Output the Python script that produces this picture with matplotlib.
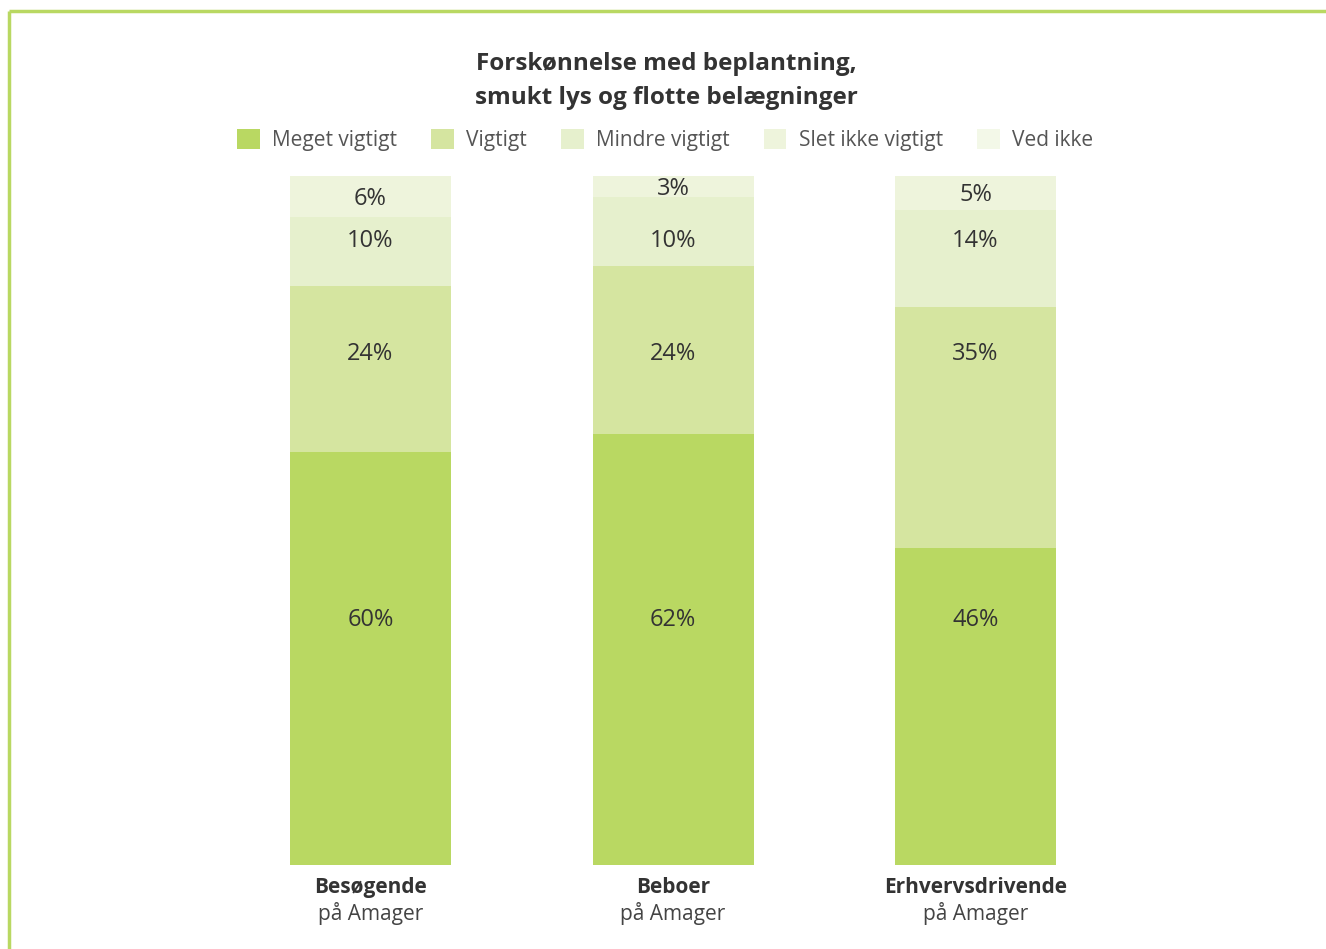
import matplotlib
matplotlib.use("Agg")
import matplotlib.pyplot as plt
from matplotlib import font_manager
from matplotlib.lines import Line2D
import numpy as np

# ---- data ----
groups = ["Besøgende", "Beboer", "Erhvervsdrivende"]
group_sub = ["på Amager", "på Amager", "på Amager"]
series = ["Meget vigtigt", "Vigtigt", "Mindre vigtigt", "Slet ikke vigtigt", "Ved ikke"]
meget_vigtigt = [60, 62, 46]
vigtigt = [24, 24, 35]
mindre_vigtigt = [10, 10, 14]
slet_ikke = [6, 3, 5]
ved_ikke = [0, 0, 0]
title = "Forskønnelse med beplantning,\nsmukt lys og flotte belægninger"

colors = ["#b9d862", "#d5e5a0", "#e6f0cd", "#eef4dc", "#f3f8e8"]

avail = {f.name for f in font_manager.fontManager.ttflist}
fam = [f for f in ["Liberation Sans Narrow", "Open Sans", "DejaVu Sans"] if f in avail]
plt.rcParams["font.family"] = fam

W, H = 1326, 949
fig = plt.figure(figsize=(W / 100, H / 100), dpi=100)

# frame lines (top and left)
fig.add_artist(Line2D([9 / W, 9 / W], [0, 1 - 11 / H], transform=fig.transFigure,
                      color="#b9d862", lw=2.5, solid_capstyle="butt"))
fig.add_artist(Line2D([9 / W, 1], [1 - 11 / H, 1 - 11 / H], transform=fig.transFigure,
                      color="#b9d862", lw=2.5, solid_capstyle="butt"))

# axes: x-units 302.5 px, centers at 370.5, 672.5, 975.5 ; y 0 at 865, 100 at 176
m = 0.75
x0 = 370.5 - m * 302.5
x1 = 975.5 + m * 302.5
ax = fig.add_axes([x0 / W, (H - 865) / H, (x1 - x0) / W, (865 - 176) / H])
ax.set_xlim(-m, 2 + m)
ax.set_ylim(0, 100)
ax.axis("off")

data = np.array([meget_vigtigt, vigtigt, mindre_vigtigt, slet_ikke, ved_ikke], dtype=float)
totals = data.sum(axis=0)
norm = data / totals * 100
x = np.arange(len(groups))
bw = 161 / 302.5
bottom = np.zeros(len(groups))
handles = []
for i, name in enumerate(series):
    b = ax.bar(x, norm[i], bw, bottom=bottom, color=colors[i], label=name, linewidth=0)
    handles.append(b)
    bottom += norm[i]

# value labels: first three series on fixed rows, top series centred in segment
label_rows = [35.6, 74.1, 90.5]
cum = np.cumsum(norm, axis=0)
for i in range(4):
    for j in range(len(groups)):
        v = data[i, j]
        if v <= 0:
            continue
        if i < 3:
            yy = label_rows[i]
        else:
            yy = cum[i, j] - norm[i, j] / 2 - 0.3
        ax.text(x[j], yy, f"{int(v)}%", ha="center", va="center",
                fontsize=17, color="#333333")

# category labels
for j in range(len(groups)):
    ax.text(x[j], -3.3, groups[j], ha="center", va="center", fontsize=15,
            fontweight="bold", color="#333333", clip_on=False)
    ax.text(x[j], -7.1, group_sub[j], ha="center", va="center", fontsize=15,
            color="#444444", clip_on=False)

# title
fig.text(666 / W, 1 - 81 / H, title, ha="center", va="center", fontsize=17.5,
         fontweight="bold", color="#333333", linespacing=1.6)

# legend
leg = fig.legend(handles=handles, labels=series, loc="center", ncol=5,
                 bbox_to_anchor=(665 / W, 1 - 140 / H), frameon=False,
                 fontsize=15, handlelength=1.1, handleheight=1.1,
                 handletextpad=0.6, columnspacing=1.62, labelcolor="#555555")

fig.savefig("out.png", dpi=100, facecolor="white")
